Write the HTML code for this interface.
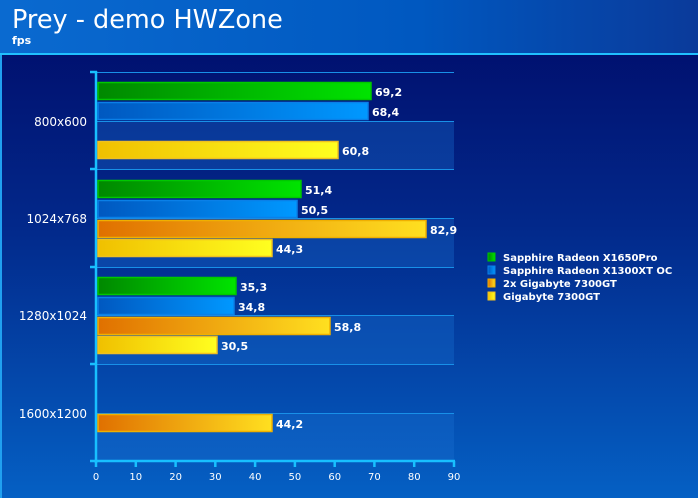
<!DOCTYPE html>
<html><head><style>
html,body{margin:0;padding:0;background:#0050b8;}
svg{display:block;}
text{font-family:"DejaVu Sans","Liberation Sans",sans-serif;}
</style></head><body>
<svg width="698" height="498" xmlns="http://www.w3.org/2000/svg">
<defs>
<linearGradient id="hdr" x1="0" y1="0" x2="1" y2="0"><stop offset="0" stop-color="#0a6ad0"/><stop offset="0.6" stop-color="#0058c0"/><stop offset="1" stop-color="#0a3a9a"/></linearGradient>
<linearGradient id="bg" x1="0" y1="0" x2="0" y2="1"><stop offset="0" stop-color="#000a68"/><stop offset="0.45" stop-color="#02288a"/><stop offset="1" stop-color="#0560c4"/></linearGradient>
<linearGradient id="gG" x1="0" y1="0" x2="1" y2="0"><stop offset="0" stop-color="#008800"/><stop offset="1" stop-color="#00e400"/></linearGradient>
<linearGradient id="gB" x1="0" y1="0" x2="1" y2="0"><stop offset="0" stop-color="#0058c0"/><stop offset="1" stop-color="#0098ff"/></linearGradient>
<linearGradient id="gO" x1="0" y1="0" x2="1" y2="0"><stop offset="0" stop-color="#e07000"/><stop offset="1" stop-color="#ffe020"/></linearGradient>
<linearGradient id="gY" x1="0" y1="0" x2="1" y2="0"><stop offset="0" stop-color="#f0c000"/><stop offset="1" stop-color="#ffff20"/></linearGradient>
</defs>
<rect x="0" y="0" width="698" height="498" fill="url(#bg)"/>
<rect x="0" y="0" width="698" height="53" fill="url(#hdr)"/>
<rect x="0" y="53" width="698" height="2" fill="#20c0ff"/>
<rect x="0" y="55" width="2" height="443" fill="#20a0f0"/>
<text x="12" y="28" font-size="25.5" fill="#fff">Prey - demo HWZone</text>
<text x="12" y="44" font-size="11" font-weight="bold" fill="#fff">fps</text>

<g fill="#1a70d0" fill-opacity="0.35">
<rect x="96" y="121" width="358" height="48"/>
<rect x="96" y="218" width="358" height="49"/>
<rect x="96" y="315" width="358" height="49"/>
<rect x="96" y="413" width="358" height="48"/>
</g>
<g stroke="#1890e8" stroke-width="1">
<line x1="96" y1="72.5" x2="454" y2="72.5"/>
<line x1="96" y1="121.5" x2="454" y2="121.5"/>
<line x1="96" y1="169.5" x2="454" y2="169.5"/>
<line x1="96" y1="218.5" x2="454" y2="218.5"/>
<line x1="96" y1="267.5" x2="454" y2="267.5"/>
<line x1="96" y1="315.5" x2="454" y2="315.5"/>
<line x1="96" y1="364.5" x2="454" y2="364.5"/>
<line x1="96" y1="413.5" x2="454" y2="413.5"/>
</g>

<g stroke="#18c0ff" stroke-width="2.5">
<line x1="96" y1="71" x2="96" y2="463"/>
<line x1="90" y1="461" x2="455" y2="461"/>
<line x1="90" y1="72" x2="97" y2="72"/>
<line x1="90" y1="169" x2="97" y2="169"/>
<line x1="90" y1="267" x2="97" y2="267"/>
<line x1="90" y1="364" x2="97" y2="364"/>
<line x1="135.8" y1="461" x2="135.8" y2="467"/>
<line x1="175.6" y1="461" x2="175.6" y2="467"/>
<line x1="215.3" y1="461" x2="215.3" y2="467"/>
<line x1="255.1" y1="461" x2="255.1" y2="467"/>
<line x1="294.9" y1="461" x2="294.9" y2="467"/>
<line x1="334.7" y1="461" x2="334.7" y2="467"/>
<line x1="374.4" y1="461" x2="374.4" y2="467"/>
<line x1="414.2" y1="461" x2="414.2" y2="467"/>
<line x1="454" y1="461" x2="454" y2="467"/>
<line x1="96" y1="461" x2="96" y2="467"/>
</g>
<g font-size="10" fill="#fff" text-anchor="middle">
<text x="96" y="480">0</text><text x="135.8" y="480">10</text><text x="175.6" y="480">20</text><text x="215.3" y="480">30</text><text x="255.1" y="480">40</text><text x="294.9" y="480">50</text><text x="334.7" y="480">60</text><text x="374.4" y="480">70</text><text x="414.2" y="480">80</text><text x="454" y="480">90</text>
</g>
<g font-size="12" fill="#fff" text-anchor="end">
<text x="87" y="126">800x600</text>
<text x="87" y="223">1024x768</text>
<text x="87" y="320">1280x1024</text>
<text x="87" y="418">1600x1200</text>
</g>

<g stroke-width="1.5">
<rect x="98" y="82.5" width="273" height="17" fill="url(#gG)" stroke="#00c800"/>
<rect x="98" y="102.5" width="270" height="17" fill="url(#gB)" stroke="#0a80e8"/>
<rect x="98" y="141.5" width="240" height="17" fill="url(#gY)" stroke="#f0c020"/>

<rect x="98" y="180.5" width="203" height="17" fill="url(#gG)" stroke="#00c800"/>
<rect x="98" y="200.5" width="199" height="17" fill="url(#gB)" stroke="#0a80e8"/>
<rect x="98" y="220.5" width="328" height="17" fill="url(#gO)" stroke="#f0b000"/>
<rect x="98" y="239.5" width="174" height="17" fill="url(#gY)" stroke="#f0c020"/>

<rect x="98" y="277.5" width="138" height="17" fill="url(#gG)" stroke="#00c800"/>
<rect x="98" y="297.5" width="136" height="17" fill="url(#gB)" stroke="#0a80e8"/>
<rect x="98" y="317.5" width="232" height="17" fill="url(#gO)" stroke="#f0b000"/>
<rect x="98" y="336.5" width="119" height="17" fill="url(#gY)" stroke="#f0c020"/>

<rect x="98" y="414.5" width="174" height="17" fill="url(#gO)" stroke="#f0b000"/>
</g>
<g font-size="11" font-weight="bold" fill="#fff">
<text x="375" y="96">69,2</text>
<text x="372" y="116">68,4</text>
<text x="342" y="155">60,8</text>
<text x="305" y="194">51,4</text>
<text x="301" y="214">50,5</text>
<text x="430" y="234">82,9</text>
<text x="276" y="253">44,3</text>
<text x="240" y="291">35,3</text>
<text x="238" y="311">34,8</text>
<text x="334" y="331">58,8</text>
<text x="221" y="350">30,5</text>
<text x="276" y="428">44,2</text>
</g>

<rect x="488" y="253" width="7" height="8" fill="url(#gG)" stroke="#00c800"/>
<rect x="488" y="266" width="7" height="8" fill="url(#gB)" stroke="#0a80e8"/>
<rect x="488" y="279" width="7" height="8" fill="url(#gO)" stroke="#f0b000"/>
<rect x="488" y="292" width="7" height="8" fill="url(#gY)" stroke="#f0c020"/>
<g font-size="10" font-weight="bold" fill="#fff">
<text x="503" y="261">Sapphire Radeon X1650Pro</text>
<text x="503" y="274">Sapphire Radeon X1300XT OC</text>
<text x="503" y="287">2x Gigabyte 7300GT</text>
<text x="503" y="300">Gigabyte 7300GT</text>
</g>
</svg>
</body></html>
